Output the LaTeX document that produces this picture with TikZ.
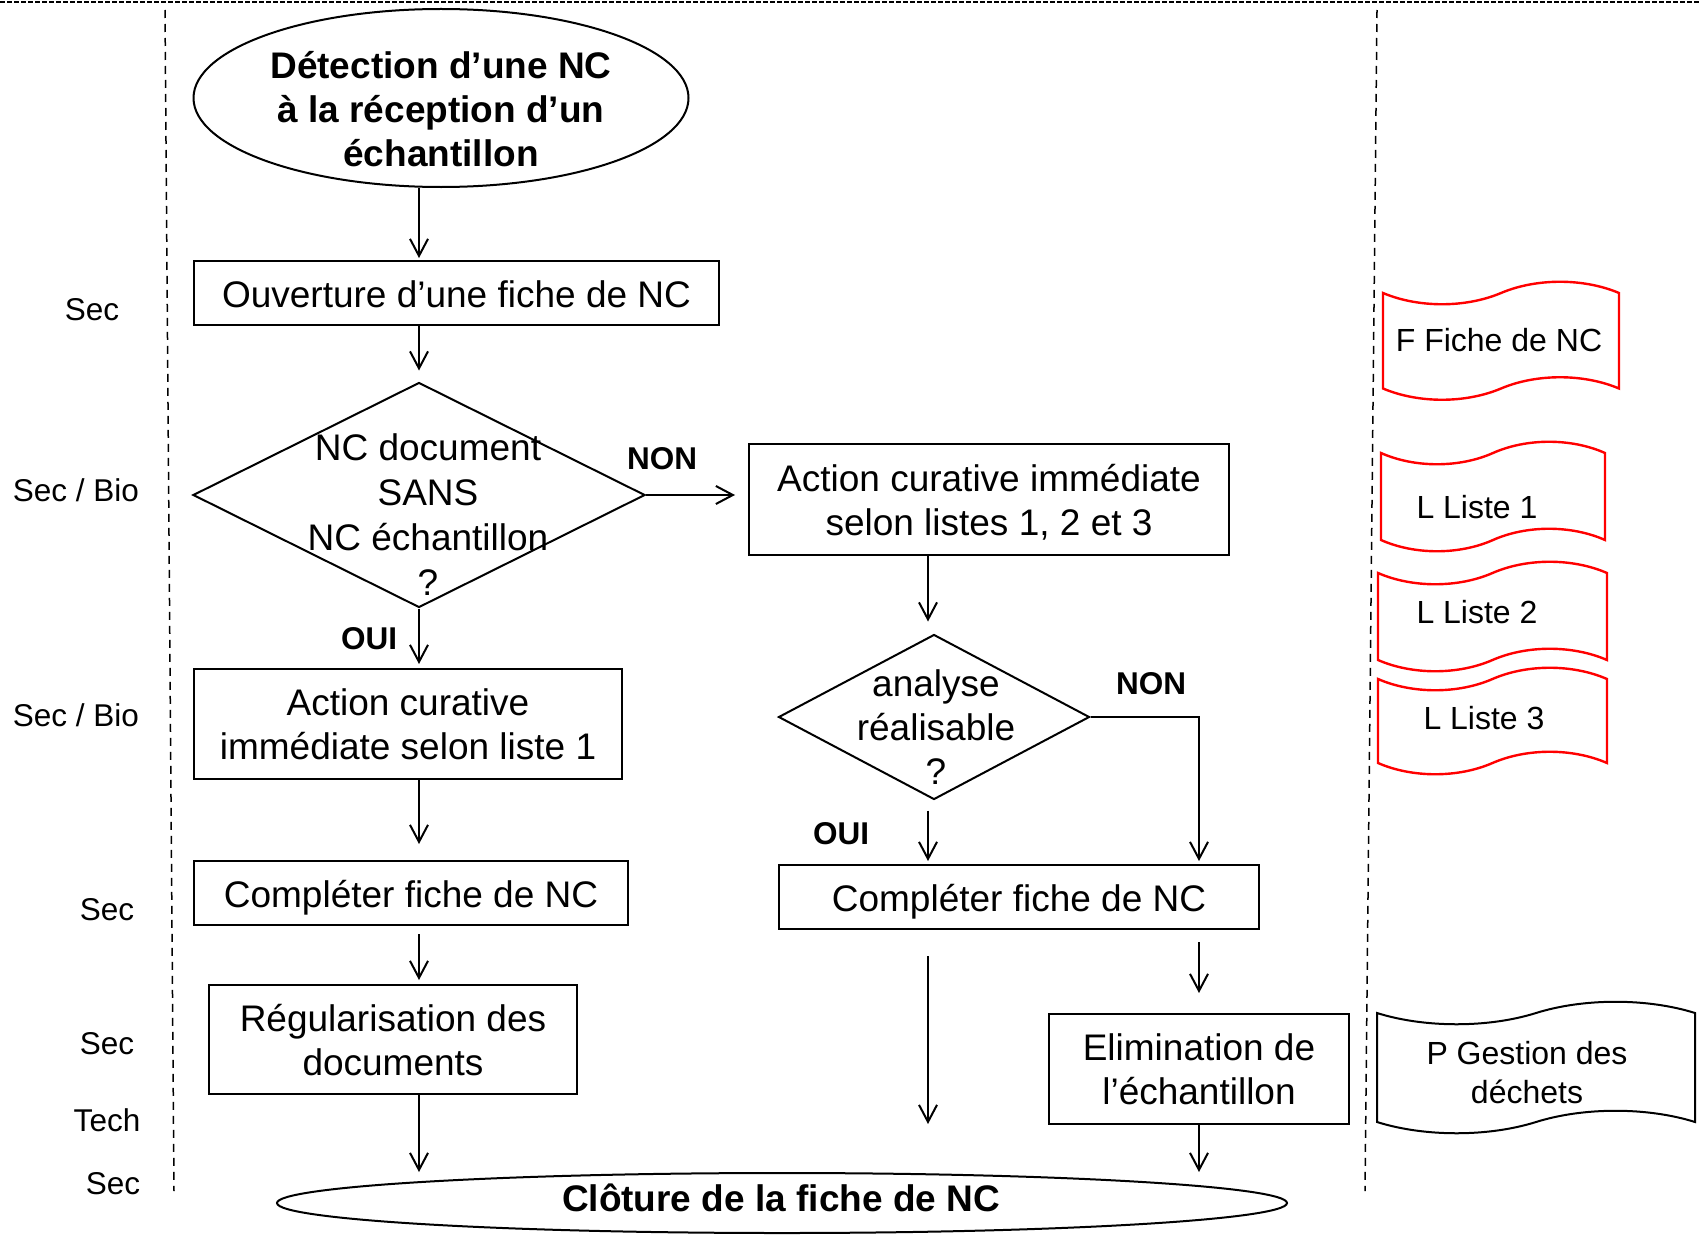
\documentclass[tikz,border=0pt]{standalone}
\usepackage{fontspec}
\setmainfont{Liberation Sans}
\usetikzlibrary{arrows.meta,shapes.geometric,calc}
\newdimen\pxu \pxu=0.5pt
\newcommand\mainfs{\fontsize{18.5}{22}\selectfont}
\newcommand\smallfs{\fontsize{15.75}{19}\selectfont}
\newcommand\docfs{\fontsize{16}{19.5}\selectfont}
\newcommand\tapeshape[5]{%
\draw[#5] (#1,#3)
 .. controls ({#1+0.15*(#2-#1)},{#3+15}) and ({#1+0.35*(#2-#1)},{#3+15}) .. ({0.5*(#1+#2)},#3)
 .. controls ({#1+0.65*(#2-#1)},{#3-15}) and ({#1+0.85*(#2-#1)},{#3-15}) .. (#2,#3)
 -- (#2,#4)
 .. controls ({#1+0.85*(#2-#1)},{#4-15}) and ({#1+0.65*(#2-#1)},{#4-15}) .. ({0.5*(#1+#2)},#4)
 .. controls ({#1+0.35*(#2-#1)},{#4+15}) and ({#1+0.15*(#2-#1)},{#4+15}) .. (#1,#4)
 -- cycle;}
\begin{document}
\begin{tikzpicture}[x=0.5pt,y=-0.5pt,
  box/.style={draw,line width=1pt,rectangle,inner sep=0pt,align=center,font=\mainfs,text depth=0pt},
  oneline/.style={text height=14.5pt},
  shp/.style={draw,line width=1pt,inner sep=0pt},
  txt/.style={align=center,font=\mainfs,inner sep=0pt},
  btxt/.style={align=center,font=\bfseries\mainfs,inner sep=0pt},
  lab/.style={font=\smallfs,inner sep=0pt},
  yn/.style={font=\bfseries\smallfs,inner sep=0pt},
  doctxt/.style={font=\docfs,align=center,inner sep=0pt},
  arr/.style={line width=1pt,-{Straight Barb[length=8.5pt,width=9pt]}},
  docred/.style={draw=red,line width=1.2pt},
  docblk/.style={draw=black,line width=1pt},
  sep/.style={line width=0.75pt,dash pattern=on 4pt off 3pt}]
\useasboundingbox (0,0) rectangle (1706,1236);

% separators
\coordinate (tl) at (0,2);
\coordinate (tr) at (1700,2);
\draw[line width=1.2pt,dash pattern=on 2.5pt off 1pt] (tl) -- (tr);
\coordinate (l1) at (165,10);
\coordinate (l2) at (174,1191);
\draw[sep] (l1) -- (l2);
\coordinate (r1) at (1377,10);
\coordinate (r2) at (1365,1191);
\draw[sep] (r1) -- (r2);

% columns
\coordinate (cA) at (419,0);
\coordinate (cB) at (928,0);
\coordinate (cC) at (1199,0);

% start ellipse
\node[shp,ellipse,minimum width=495\pxu,minimum height=178\pxu] (e1) at (441,98) {};
\node[btxt] (e1t) at (441,109) {Détection d’une NC\\à la réception d’un\\échantillon};

\node[box,oneline,minimum width=525\pxu,minimum height=64\pxu] (b1) at (456.5,293) {Ouverture d’une fiche de NC};

\node[shp,diamond,minimum width=452\pxu,minimum height=225\pxu] (d1) at (419,495) {};
\node[txt,font=\fontsize{18.5}{22.5}\selectfont] (d1t) at (428,515) {NC document\\SANS\\NC échantillon\\?};

\node[box,minimum width=480\pxu,minimum height=111\pxu] (b2) at (989,499.5) {Action curative immédiate\\selon listes 1, 2 et 3};

\node[box,minimum width=428\pxu,minimum height=110\pxu] (b3) at (408,724) {Action curative\\immédiate selon liste 1};

\node[box,oneline,minimum width=434\pxu,minimum height=64\pxu] (b4) at (411,893) {Compléter fiche de NC};

\node[box,minimum width=368\pxu,minimum height=109\pxu] (b5) at (393,1039.5) {Régularisation des\\documents};

\node[shp,diamond,minimum width=311\pxu,minimum height=165\pxu] (d2) at (934,717) {};
\node[txt] (d2t) at (936,727) {analyse\\réalisable\\?};

\node[box,oneline,minimum width=480\pxu,minimum height=64\pxu] (b6) at (1019,897) {Compléter fiche de NC};

\node[box,minimum width=300\pxu,minimum height=110\pxu] (b7) at (1199,1069) {Elimination de\\l’échantillon};

\node[shp,ellipse,minimum width=1010\pxu,minimum height=60\pxu] (e2) at (782,1203) {};
\node[btxt] (e2t) at (781,1198) {Clôture de la fiche de NC};

\coordinate (endB) at (928,1124);

% connectors
\draw[arr,shorten >=1pt] (e1.south -| cA) -- (b1.north -| cA);
\draw[arr,shorten >=5.5pt] (b1.south -| cA) -- (d1.north);
\draw[arr,shorten >=6.5pt] (d1.east) -- (d1.east -| b2.west);
\draw[arr,shorten >=2pt] (d1.south) -- (b3.north -| cA);
\draw[arr,shorten >=8pt] (b3.south -| cA) -- (b4.north -| cA);
\draw[arr,shorten <=4pt,shorten >=2pt] (b4.south -| cA) -- (b5.north -| cA);
\draw[arr] (b5.south -| cA) -- (cA |- e2.north);
\draw[arr,shorten >=6pt] (b2.south -| cB) -- (cB |- d2.north);
\draw[arr,shorten <=5pt,shorten >=1.5pt] (d2.south -| cB) -- (b6.north -| cB);
\draw[arr,shorten >=1.5pt] (d2.east) -- (d2.east -| cC) -- (b6.north -| cC);
\draw[arr,shorten <=13pt] (b6.south -| cB) -- (endB);
\draw[arr,shorten <=6pt,shorten >=10pt] (b6.south -| cC) -- (b7.north);
\draw[arr] (b7.south) -- (cC |- e2.north);

% branch labels
\node[yn] (non1) at (662,459) {NON};
\node[yn] (oui1) at (369,639) {OUI};
\node[yn] (non2) at (1151,684) {NON};
\node[yn] (oui2) at (841,834) {OUI};

% actor labels
\node[lab] (a1) at (92,310) {Sec};
\node[lab] (a2) at (76,490) {Sec / Bio};
\node[lab] (a3) at (76,715) {Sec / Bio};
\node[lab] (a4) at (107,910) {Sec};
\node[lab] (a5) at (107,1044) {Sec};
\node[lab] (a6) at (107,1120) {Tech};
\node[lab] (a7) at (113,1184) {Sec};

% documents
\tapeshape{1383}{1619}{293}{388.5}{docred}
\node[doctxt] (f1) at (1499,340) {F Fiche de NC};
\tapeshape{1381}{1605}{453}{540}{docred}
\node[doctxt] (f2) at (1477,507) {L Liste 1};
\tapeshape{1378}{1607}{573}{660}{docred}
\node[doctxt] (f3) at (1477,612) {L Liste 2};
\tapeshape{1378}{1607}{679}{763}{docred}
\node[doctxt] (f4) at (1484,718) {L Liste 3};
\tapeshape{1377}{1695}{1013}{1122}{docblk}
\node[doctxt] (f5) at (1527,1072.5) {P Gestion des\\déchets};
\end{tikzpicture}
\end{document}
